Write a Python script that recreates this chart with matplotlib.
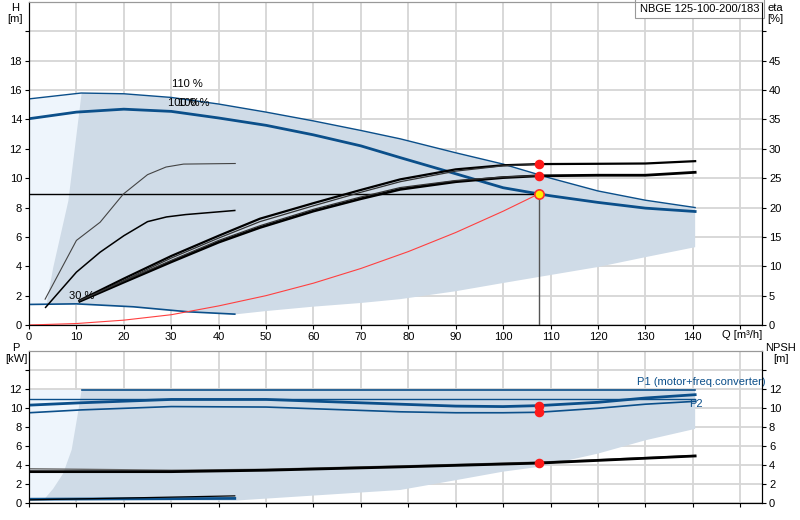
import numpy as np
import matplotlib
matplotlib.use('Agg')
import matplotlib.pyplot as plt

plt.rcParams['font.family'] = ['Liberation Sans', 'DejaVu Sans']
plt.rcParams['font.size'] = 8

# ---- head curves (H in m) ----
q_110 = [0, 11, 20, 30, 40, 50, 60, 70, 78.3, 90, 100, 110, 120, 130, 140.5]
h_110 = [15.4, 15.8, 15.75, 15.5, 15.05, 14.5, 13.9, 13.25, 12.68, 11.73, 10.96, 10.0, 9.13, 8.5, 8.0]

q_100 = [0, 10, 20, 30, 40, 50, 60, 70, 78.3, 90, 100, 107.5, 110, 120, 130, 140.5]
h_100 = [14.05, 14.5, 14.7, 14.55, 14.1, 13.6, 12.95, 12.2, 11.4, 10.3, 9.35, 8.93, 8.8, 8.35, 7.96, 7.73]

q_30 = [0, 10, 22, 33.5, 43.4]
h_30 = [1.40, 1.44, 1.24, 0.9, 0.74]

# operating area outline (top)
area_q = [11.1, 8.3, 5.1, 3.7, 10, 22, 33.5, 43.4, 50, 60, 70, 78.3, 90, 100, 107.5, 120, 130, 140.5,
          140.5, 130, 120, 110, 100, 90, 78.3, 70, 60, 50, 40, 30, 20, 11.1]
area_h = [15.8, 8.45, 3.9, 1.4, 1.44, 1.24, 0.9, 0.72, 0.95, 1.25, 1.5, 1.76, 2.3, 2.86, 3.27, 3.95, 4.62, 5.3,
          8.0, 8.5, 9.13, 10.0, 10.96, 11.73, 12.68, 13.25, 13.9, 14.5, 15.05, 15.5, 15.75, 15.8]

# system curve
q_sys = [0, 10, 20, 30, 40, 50, 60, 70, 80, 90, 100, 107.5]
h_sys = [0, 0.1, 0.33, 0.7, 1.3, 2.0, 2.85, 3.85, 5.0, 6.3, 7.75, 8.93]
q_duty, h_duty = 107.5, 8.93

# ---- efficiency curves (eta in %) ----
q_eta_a = [3.4, 10, 15, 19.9, 25, 28.9, 32.6, 43.5]
eta_a = [4.4, 14.4, 17.5, 22.3, 25.6, 26.9, 27.4, 27.5]
q_eta_b = [3.5, 10, 15, 20, 25, 29, 33, 43.4]
eta_b = [3.0, 9.0, 12.4, 15.2, 17.6, 18.4, 18.8, 19.5]

q_eta = [10.7, 20, 30, 40, 48.7, 60, 70, 78.3, 90, 100, 107.5, 120, 130, 140.5]
eta_up = [4.2, 7.9, 11.75, 15.2, 18.1, 20.75, 23.0, 24.8, 26.5, 27.2, 27.4, 27.45, 27.5, 27.9]
eta_up2 = [4.0, 7.6, 11.4, 14.8, 17.6, 20.3, 22.6, 24.4, 26.2, 27.1, 27.35]
eta_lo = [4.05, 7.3, 10.75, 14.1, 16.6, 19.4, 21.5, 23.1, 24.4, 25.1, 25.4, 25.5, 25.5, 26.0]
eta_lo2 = [4.15, 7.5, 11.0, 14.4, 16.9, 19.7, 21.8, 23.4, 24.6, 25.2, 25.45]
eta_duty = [27.4, 25.45]

# ---- power / NPSH ----
q_p = [0, 11, 30, 50, 78.3, 90, 100, 107.5, 120, 130, 140.5]
p1 = [10.3, 10.55, 10.9, 10.9, 10.4, 10.2, 10.15, 10.25, 10.6, 11.05, 11.4]
p2 = [9.5, 9.8, 10.15, 10.1, 9.6, 9.5, 9.5, 9.55, 9.97, 10.4, 10.7]
p_max, p_ref = 11.9, 11.0
p_duty = [10.25, 9.55]

q_npsh = [0, 11, 30, 50, 78.3, 107.5, 140.5]
npsh = [3.3, 3.3, 3.3, 3.45, 3.8, 4.2, 4.95]
npsh2 = [3.6, 3.55, 3.45, 3.55, 3.9, 4.3, 5.0]
npsh_duty = 4.2

q_low = [0, 43.4]
p_low_blue = [0.4, 0.48]
p_low_black = [0.33, 0.75]

parea_q = [11.1, 10.2, 9.0, 7.2, 5.1, 3.4, 3.0, 43.4, 78.3, 90, 100, 107.5, 120, 130, 140.5, 140.5]
parea_p = [11.9, 9.1, 5.6, 3.1, 1.5, 0.5, 0.3, 0.25, 1.37, 2.4, 3.3, 3.8, 5.2, 6.6, 7.8, 11.9]

BLUE = '#0b4f8a'
DARK = '#cfdbe7'
LIGHT = '#eef5fc'
GRID = '#d6d6d6'
xmax = 154.6

fig = plt.figure(figsize=(8, 5.2), dpi=100)
ax = fig.add_axes([29/800, 1-325/520, 733/800, 323/520])
axp = fig.add_axes([29/800, 1-503/520, 733/800, 152/520])


def style(a, ymax, ystep):
    a.set_xlim(0, xmax)
    a.set_ylim(0, ymax)
    a.set_xticks(np.arange(0, 151, 10))
    a.set_yticks(np.arange(0, ymax, ystep))
    a.grid(True, color=GRID, lw=1.3, zorder=0)
    a.set_axisbelow(True)
    for s in ['left', 'bottom', 'right']:
        a.spines[s].set_color('black')
    a.spines['top'].set_color('#999999')
    a.tick_params(length=3, width=0.8, labelsize=8, pad=2)


# ---------- top: head ----------
style(ax, 22, 2)
ax.set_yticklabels([str(v) if v < 20 else '' for v in range(0, 22, 2)])
ax.set_xticklabels([str(v) if v < 150 else '' for v in range(0, 151, 10)])

ax.fill_between(q_110[:2], [h_30[0], h_30[0]], h_110[:2], color=LIGHT, lw=0, zorder=1)
ax.fill(area_q, area_h, color=DARK, lw=0, zorder=1)

ax.plot(q_110, h_110, color=BLUE, lw=1.0, zorder=3)
ax.plot(q_100, h_100, color=BLUE, lw=2.0, zorder=3)
ax.plot(q_30, h_30, color=BLUE, lw=1.2, zorder=3)
ax.plot(q_sys, h_sys, color='#ff4040', lw=0.8, zorder=3)
ax.plot([0, q_duty], [h_duty, h_duty], color='black', lw=1.0, zorder=3)
ax.plot([q_duty, q_duty], [0, h_duty], color='#555555', lw=1.0, zorder=3)
ax.scatter([q_duty], [h_duty], s=45, color='#ffee00', edgecolor='#ff3030', lw=1.2, zorder=6)

ax.text(30.2, 16.4, '110 %', fontsize=8, va='center')
# two speed labels printed on top of each other, as in the original
ax.text(29.3, 15.15, '100 %', fontsize=8, va='center')
ax.text(31.4, 15.15, '100 %', fontsize=8, va='center')
ax.text(8.4, 2.0, '30 %', fontsize=8, va='center')
ax.text(146.2, -0.35, 'Q [m\u00b3/h]', fontsize=8, va='top', ha='left')
ax.text(0.996, 0.994, 'NBGE 125-100-200/183', transform=ax.transAxes, ha='right', va='top',
        fontsize=8, bbox=dict(boxstyle='square,pad=0.4', fc='white', ec='#999999', lw=0.8), zorder=10)

ae = ax.twinx()
ae.set_ylim(0, 55)
ae.set_yticks(np.arange(0, 55, 5))
ae.set_yticklabels([str(v) if v < 50 else '' for v in range(0, 55, 5)])
ae.tick_params(length=3, width=0.8, labelsize=8, pad=2)
ae.spines['top'].set_color('#999999')
ae.plot(q_eta_a, eta_a, color='#444444', lw=0.8)
ae.plot(q_eta_b, eta_b, color='black', lw=1.1)
ae.plot(q_eta, eta_up, color='black', lw=1.6)
ae.plot(q_eta[:len(eta_up2)], eta_up2, color='#333333', lw=0.9)
ae.plot(q_eta, eta_lo, color='black', lw=2.0)
ae.plot(q_eta[:len(eta_lo2)], eta_lo2, color='#333333', lw=0.9)
ae.scatter([q_duty, q_duty], eta_duty, s=35, color='#ff1a1a', zorder=6)

fig.text(15/800, 1-3/520, 'H\n[m]', ha='center', va='top', fontsize=8, linespacing=1.1)
fig.text(775/800, 1-3/520, 'eta\n[%]', ha='center', va='top', fontsize=8, linespacing=1.1)

# ---------- bottom: power / NPSH ----------
style(axp, 16, 2)
axp.set_yticklabels([str(v) if v < 14 else '' for v in range(0, 16, 2)])
axp.set_xticklabels([])

axp.fill_between([0, 11.1], [0.4, 0.4], [p_max, p_max], color=LIGHT, lw=0, zorder=1)
axp.fill(parea_q, parea_p, color=DARK, lw=0, zorder=1)

axp.plot([11.1, 140.5], [p_max, p_max], color=BLUE, lw=1.2, zorder=3)
axp.plot([0, 140.5], [p_ref, p_ref], color=BLUE, lw=1.0, zorder=3)
axp.plot(q_p, p1, color=BLUE, lw=2.0, zorder=3)
axp.plot(q_p, p2, color=BLUE, lw=1.2, zorder=3)
axp.plot(q_low, p_low_blue, color=BLUE, lw=2.0, zorder=3)
axp.plot(q_low, p_low_black, color='black', lw=0.9, zorder=3)
axp.plot(q_npsh, npsh2, color='#666666', lw=1.0, zorder=3)
axp.plot(q_npsh, npsh, color='black', lw=2.0, zorder=3)
axp.scatter([q_duty, q_duty, q_duty], p_duty + [npsh_duty], s=35, color='#ff1a1a', zorder=6)

axp.text(128.3, 12.7, 'P1 (motor+freq.converter)', color=BLUE, fontsize=8, va='center')
axp.text(139.2, 10.4, 'P2', color=BLUE, fontsize=8, va='center')

an = axp.twinx()
an.set_ylim(0, 16)
an.set_yticks(np.arange(0, 16, 2))
an.set_yticklabels([str(v) if v < 14 else '' for v in range(0, 16, 2)])
an.tick_params(length=3, width=0.8, labelsize=8, pad=2)
an.spines['top'].set_color('#999999')

fig.text(16/800, 1-343/520, 'P\n[kW]', ha='center', va='top', fontsize=8, linespacing=1.1)
fig.text(781/800, 1-343/520, 'NPSH\n[m]', ha='center', va='top', fontsize=8, linespacing=1.1)

fig.savefig('out.png', dpi=100)
